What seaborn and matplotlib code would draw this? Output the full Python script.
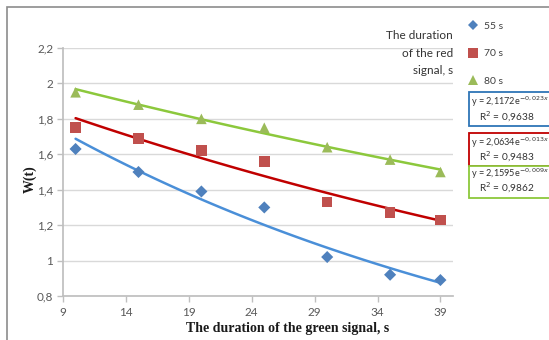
import matplotlib
matplotlib.use("Agg")
import matplotlib.pyplot as plt
import numpy as np
import pandas as pd
import seaborn as sns
from matplotlib.lines import Line2D
from matplotlib.patches import Rectangle

# --- data ---
green_time = [10, 15, 20, 25, 30, 35, 39]
w_55 = [1.63, 1.50, 1.39, 1.30, 1.02, 0.92, 0.89]
w_70 = [1.75, 1.69, 1.62, 1.56, 1.33, 1.27, 1.23]
w_80 = [1.95, 1.88, 1.80, 1.75, 1.64, 1.57, 1.50]
series_names = ["55 s", "70 s", "80 s"]
fit_equations = ["y = 2,1172e$^{-0,023x}$", "y = 2,0634e$^{-0,013x}$",
                 "y = 2,1595e$^{-0,009x}$"]
fit_r2 = ["R$^2$ = 0,9638", "R$^2$ = 0,9483", "R$^2$ = 0,9862"]
y_ticks = [0.8, 1.0, 1.2, 1.4, 1.6, 1.8, 2.0, 2.2]
y_tick_labels = ["0,8", "1", "1,2", "1,4", "1,6", "1,8", "2", "2,2"]
x_ticks = [9, 14, 19, 24, 29, 34, 39]

marker_colors = ["#4f81bd", "#c0504d", "#9bbb59"]
line_colors = ["#4a8fd8", "#c00000", "#8cc83c"]
box_colors = ["#2e75b6", "#c00000", "#8cc83c"]
markers = ["D", "s", "^"]
sizes = [38, 58, 58]

sns.set_theme(style="white")
plt.rcParams["font.family"] = ["Lato", "DejaVu Sans"]

W, H = 549, 340
fig = plt.figure(figsize=(5.49, 3.40), dpi=100)
ax = fig.add_axes([63 / W, 1 - 296 / H, 390 / W, 248 / H])

# outer chart frame (runs past right and bottom edges as in the original)
fig.patches.append(Rectangle((7 / W, -0.1), 1.2, 1 - 7 / H + 0.1,
                             transform=fig.transFigure, fill=False,
                             edgecolor="#8c8c8c", linewidth=1.2))

df = pd.DataFrame({"t": green_time * 3,
                   "w": w_55 + w_70 + w_80,
                   "signal": np.repeat(series_names, len(green_time))})

x_fit = np.linspace(min(green_time), max(green_time), 100)
for i, name in enumerate(series_names):
    sub = df[df["signal"] == name]
    # exponential trend line (least squares on log w)
    b, log_a = np.polyfit(sub["t"], np.log(sub["w"]), 1)
    sns.lineplot(x=x_fit, y=np.exp(log_a) * np.exp(b * x_fit), ax=ax,
                 color=line_colors[i], linewidth=1.8, zorder=3)
    sns.scatterplot(data=sub, x="t", y="w", ax=ax, marker=markers[i],
                    color=marker_colors[i], s=sizes[i], edgecolor="none",
                    zorder=4, legend=False)

ax.set_xlim(9, 40)
ax.set_ylim(0.8, 2.2)
ax.set_xticks(x_ticks)
ax.set_xticklabels([str(t) for t in x_ticks])
ax.set_yticks(y_ticks)
ax.set_yticklabels(y_tick_labels)
ax.grid(axis="y", color="#d9d9d9", linewidth=1)
ax.grid(axis="x", visible=False)
for side in ["top", "right"]:
    ax.spines[side].set_visible(False)
for side in ["left", "bottom"]:
    ax.spines[side].set_color("#bfbfbf")
ax.tick_params(axis="both", labelsize=8.5, labelcolor="#595959", color="#bfbfbf",
               length=4, width=1, direction="out", left=True, bottom=True)
ax.tick_params(axis="y", pad=3)
ax.tick_params(axis="x", pad=4)

ax.set_xlabel("The duration of the green signal, s", family="Liberation Serif",
              fontweight="bold", fontsize=10, color="#1a1a1a")
ax.xaxis.set_label_coords(0.575, -0.105)
ax.set_ylabel("W(t)", family="Liberation Serif", fontweight="bold",
              fontsize=10, color="#1a1a1a")
ax.yaxis.set_label_coords(-0.068, 0.47)

# legend title text placed over the plot area
fig.text(453 / W, 1 - 30 / H, "The duration\nof the red\nsignal, s",
         ha="right", va="top", fontsize=8.5, color="#333333",
         linespacing=1.75, multialignment="right")

handles = [Line2D([], [], linestyle="none", marker=markers[i],
                  color=marker_colors[i], markersize=[5, 6.5, 6.5][i],
                  markeredgewidth=0) for i in range(3)]
fig.legend(handles, series_names, loc="upper left",
           bbox_to_anchor=(458 / W, 1 - 12 / H), frameon=False,
           fontsize=7.5, labelspacing=1.75, handlelength=1.0,
           handletextpad=0.6, labelcolor="#404040")

# trend line equation boxes (cut by the right edge as in the original)
box_spans = [(92, 126), (133, 166), (166, 198)]
eq_rows = [(102, 117), (143, 157), (174, 188)]
for i in range(3):
    top, bottom = box_spans[i]
    fig.patches.append(Rectangle((469 / W, 1 - bottom / H), 0.3, (bottom - top) / H,
                                 transform=fig.transFigure, facecolor="white",
                                 edgecolor=box_colors[i], linewidth=1.3,
                                 zorder=5 + i))
    fig.text(471 / W, 1 - eq_rows[i][0] / H, fit_equations[i], ha="left",
             va="center", fontsize=6.6, color="#333333", zorder=10)
    fig.text(507 / W, 1 - eq_rows[i][1] / H, fit_r2[i], ha="center",
             va="center", fontsize=7.3, color="#333333", zorder=10)

fig.savefig("out.png", dpi=100)
